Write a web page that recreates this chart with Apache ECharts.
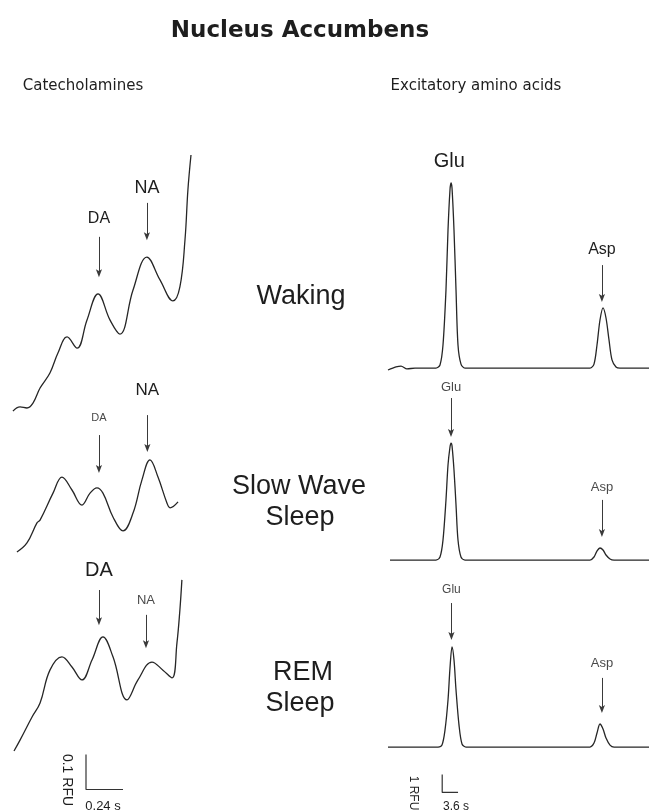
<!DOCTYPE html>
<html><head><meta charset="utf-8">
<script src="https://cdn.jsdelivr.net/npm/echarts@6/dist/echarts.min.js"></script>
<style>html,body{margin:0;padding:0;background:#fff}#c{width:649px;height:812px}</style>
</head><body><div id="c"></div>
<script>
// ---------- Catecholamines (time in s, signal in RFU) ----------
const catWakingTime = [0.006,0.052,0.097,0.136,0.182,0.246,0.298,0.357,0.422,0.486,0.558,0.636,0.700,0.785,0.875,0.960,1.044,1.089,1.122,1.141,1.161];
const catWakingRFU  = [0.011,0.023,0.020,0.034,0.077,0.120,0.177,0.223,0.191,0.271,0.346,0.271,0.231,0.357,0.451,0.386,0.326,0.366,0.500,0.643,0.743];
const catSWSTime = [0.032,0.097,0.162,0.182,0.266,0.324,0.389,0.454,0.506,0.551,0.590,0.655,0.720,0.785,0.843,0.895,0.947,1.005,1.025,1.077];
const catSWSRFU  = [0.023,0.049,0.106,0.114,0.191,0.237,0.200,0.157,0.191,0.206,0.191,0.123,0.083,0.134,0.229,0.286,0.237,0.163,0.149,0.166];
const catREMTime = [0.013,0.052,0.130,0.182,0.246,0.324,0.389,0.454,0.519,0.590,0.655,0.746,0.817,0.908,0.979,1.038,1.070,1.089,1.102];
const catREMRFU  = [0.140,0.171,0.237,0.277,0.371,0.409,0.380,0.343,0.400,0.466,0.409,0.286,0.343,0.394,0.371,0.349,0.449,0.543,0.629];

// ---------- Excitatory amino acids (time in s, signal in RFU) ----------
const eaaWakingTime = [0.68,2.5,3.64,5.0,6.82,11.59,12.5,13.18,13.86,14.32,14.77,15.0,15.23,15.68,16.14,16.59,17.27,18.18,46.59,47.5,48.18,48.86,49.55,50.23,50.91,51.59,52.5,53.41,60];
const eaaWakingRFU  = [0.11,0.28,0.33,0.17,0.22,0.22,0.39,1.5,4.56,7.89,10.11,10.5,10.22,7.89,4.56,1.5,0.44,0.22,0.22,0.44,1.5,2.89,3.56,3.0,1.78,0.67,0.28,0.22,0.22];
const eaaSWSTime = [1.14,11.59,12.5,13.18,13.86,14.32,14.77,15.0,15.23,15.68,16.14,16.59,17.27,18.18,46.59,47.5,48.18,48.86,49.55,50.23,51.14,52.05,60];
const eaaSWSRFU  = [0.22,0.22,0.39,1.33,3.56,5.5,6.5,6.72,6.56,5.22,3.28,1.33,0.39,0.22,0.22,0.39,0.72,0.89,0.78,0.5,0.28,0.22,0.22];
const eaaREMTime = [0.68,12.05,12.95,13.64,14.32,14.77,15.23,15.68,16.14,16.82,17.5,18.41,46.59,47.5,48.18,48.86,49.55,50.23,51.14,52.05,60];
const eaaREMRFU  = [0.22,0.22,0.33,1.17,2.83,4.61,5.78,5.06,3.39,1.44,0.39,0.22,0.22,0.44,1.0,1.5,1.22,0.72,0.33,0.22,0.22];

// ---------- Peak annotations: [name, time, label RFU, arrow start RFU, arrow tip RFU] ----------
const catWakingPeaks = [['DA',0.564,0.560,0.509,0.405],['NA',0.875,0.649,0.606,0.511]];
const catSWSPeaks    = [['DA',0.564,0.406,0.357,0.260],['NA',0.878,0.486,0.414,0.320]];
const catREMPeaks    = [['DA',0.564,0.657,0.600,0.511],['NA',0.869,0.571,0.529,0.445]];
const eaaWakingPeaks = [['Glu',14.6,11.67,null,null],['Asp',49.3,6.78,5.94,4.11]];
const eaaSWSPeaks    = [['Glu',15.0,9.83,9.22,7.28],['Asp',49.3,4.28,3.56,1.72]];
const eaaREMPeaks    = [['Glu',15.1,8.94,8.22,6.39],['Asp',49.3,4.89,4.06,2.33]];

// ---------- Scale bars ----------
const catScaleTime = [0.48,0.48,0.72];   // 0.24 s
const catScaleRFU  = [0.13,0.03,0.03];   // 0.1 RFU
const eaaScaleTime = [13.0,13.0,16.6];   // 3.6 s
const eaaScaleRFU  = [-1.3,-2.3,-2.3];   // 1 RFU

// ---------- Text ----------
const titleText = 'Nucleus Accumbens';
const leftHeader = 'Catecholamines';
const rightHeader = 'Excitatory amino acids';
const stateLabels = [['Waking'],['Slow Wave','Sleep'],['REM','Sleep']];

// ================= layout / styles =================
const SANS = '"Liberation Sans", Arial, sans-serif';
const INK = '#262626';
const grids = [
  {left:12, top:135,   width:185, height:280,   xmin:0, xmax:1.2, ymin:0, ymax:0.8},
  {left:12, top:385,   width:185, height:175,   xmin:0, xmax:1.2, ymin:0, ymax:0.5},
  {left:12, top:555,   width:185, height:245,   xmin:0, xmax:1.2, ymin:0, ymax:0.7},
  {left:385, top:156, width:264, height:216, xmin:0, xmax:60, ymin:0, ymax:12},
  {left:385, top:384, width:264, height:180, xmin:0, xmax:60, ymin:0, ymax:10},
  {left:385, top:553, width:264, height:252, xmin:0, xmax:60, ymin:-3, ymax:11}
];
const labelSizes = [
  {DA:16, NA:18}, {DA:11, NA:17}, {DA:20, NA:13},
  {Glu:20, Asp:16}, {Glu:13, Asp:13}, {Glu:12, Asp:13}
];
const zip = (a,b) => a.map((v,i)=>[v,b[i]]);
const ARROW = 'path://M5,0L10,13L5,10L0,13Z';

function arrowLines(peaks){
  return {
    silent:true, animation:false,
    symbol:['none', ARROW], symbolSize:8, symbolKeepAspect:true,
    lineStyle:{color:'#3a3a3a', width:1, type:'solid'},
    itemStyle:{color:'#3a3a3a'},
    label:{show:false},
    emphasis:{disabled:true},
    data: peaks.filter(p => p[3] != null).map(p => [ {coord:[p[1],p[3]]}, {coord:[p[1],p[4]]} ])
  };
}
function peakLabels(gi, peaks){
  return {
    silent:true, animation:false, symbol:'circle', symbolSize:0,
    itemStyle:{color:'rgba(0,0,0,0)'},
    label:{show:true, position:'inside', formatter:'{b}', fontFamily:SANS},
    emphasis:{disabled:true},
    data: peaks.map(p => {
      const fs = labelSizes[gi][p[0]];
      return {coord:[p[1],p[2]], name:p[0], label:{fontSize:fs, color: fs < 15 ? '#4a4a4a' : '#1e1e1e'}};
    })
  };
}
function trace(gi, t, v, smooth, peaks){
  return {
    type:'line', xAxisIndex:gi, yAxisIndex:gi, data:zip(t,v),
    symbol:'none', showSymbol:false, smooth:smooth, silent:true, animation:false,
    itemStyle:{color:INK},
    lineStyle:{color:INK, width:1.3},
    markLine: arrowLines(peaks),
    markPoint: peakLabels(gi, peaks)
  };
}
function scaleBar(gi, t, v){
  return {type:'line', xAxisIndex:gi, yAxisIndex:gi, data:zip(t,v), symbol:'none', silent:true,
          animation:false, itemStyle:{color:'#333'}, lineStyle:{color:'#333', width:1.2}};
}
const series = [
  trace(0, catWakingTime, catWakingRFU, 0.4, catWakingPeaks),
  trace(1, catSWSTime, catSWSRFU, 0.4, catSWSPeaks),
  trace(2, catREMTime, catREMRFU, 0.4, catREMPeaks),
  trace(3, eaaWakingTime, eaaWakingRFU, 0.3, eaaWakingPeaks),
  trace(4, eaaSWSTime, eaaSWSRFU, 0.3, eaaSWSPeaks),
  trace(5, eaaREMTime, eaaREMRFU, 0.3, eaaREMPeaks),
  scaleBar(2, catScaleTime, catScaleRFU),
  scaleBar(5, eaaScaleTime, eaaScaleRFU)
];

function txt(x, y, text, font, extra){
  return Object.assign({type:'text', x:x, y:y, silent:true,
    style:{text:text, font:font, fill:'#1e1e1e', align:'center', verticalAlign:'middle', textAlign:'center', textVerticalAlign:'middle'}}, extra||{});
}
const STATE_FONT = '27px ' + SANS;
const graphic = [
  txt(300, 31, titleText, 'bold 23px "DejaVu Sans", Verdana, sans-serif'),
  txt(83, 86, leftHeader, '15px "DejaVu Sans", sans-serif'),
  txt(476, 86, rightHeader, '15px "DejaVu Sans", sans-serif'),
  txt(301, 297, stateLabels[0][0], STATE_FONT),
  txt(299, 487, stateLabels[1][0], STATE_FONT),
  txt(300, 518, stateLabels[1][1], STATE_FONT),
  txt(303, 673, stateLabels[2][0], STATE_FONT),
  txt(300, 704, stateLabels[2][1], STATE_FONT),
  txt(67, 780, '0.1 RFU', '14px ' + SANS, {rotation:-Math.PI/2}),
  txt(103, 806, '0.24 s', '13px ' + SANS),
  txt(413, 793, '1 RFU', '12px ' + SANS, {rotation:-Math.PI/2}),
  txt(456, 807, '3.6 s', '12px ' + SANS)
];

const option = {
  animation:false,
  backgroundColor:'#ffffff',
  grid: grids.map(g => ({left:g.left, top:g.top, width:g.width, height:g.height, containLabel:false})),
  xAxis: grids.map((g,i) => ({type:'value', gridIndex:i, min:g.xmin, max:g.xmax, show:false})),
  yAxis: grids.map((g,i) => ({type:'value', gridIndex:i, min:g.ymin, max:g.ymax, show:false})),
  series: series,
  graphic: graphic
};
const chart = echarts.init(document.getElementById('c'), null, {renderer:'canvas'});
chart.setOption(option);
</script></body></html>
